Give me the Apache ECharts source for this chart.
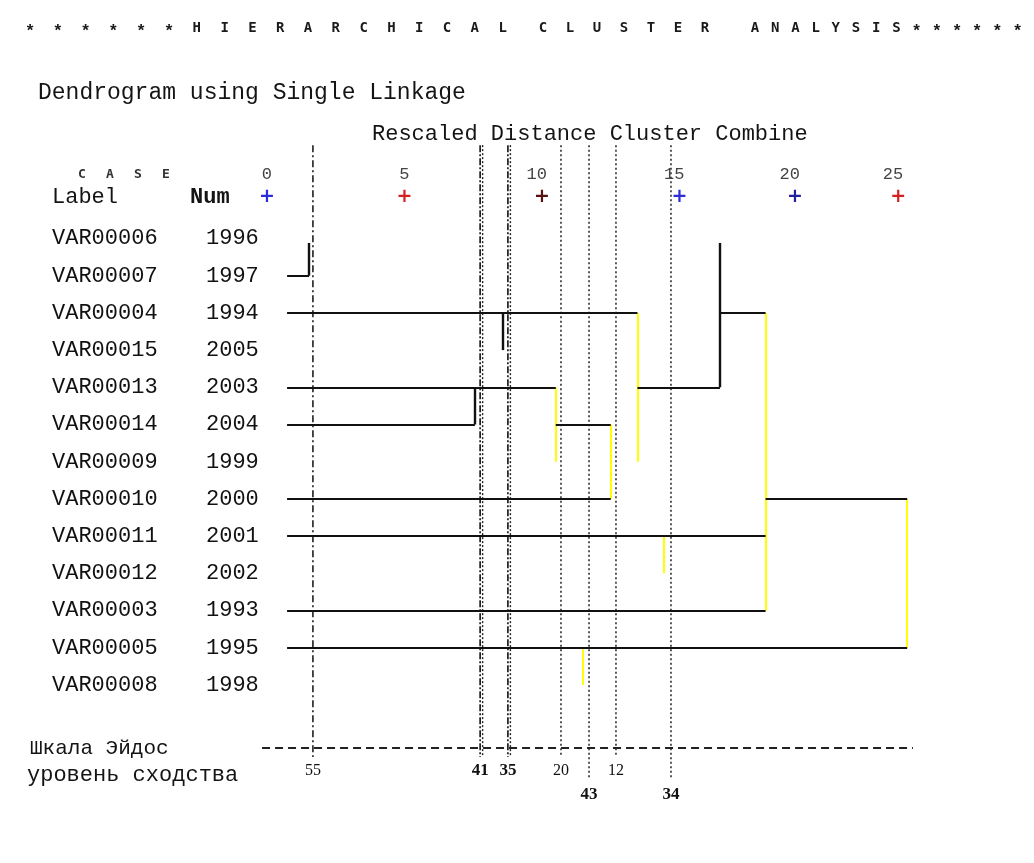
<!DOCTYPE html>
<html><head><meta charset="utf-8">
<script src="https://cdn.jsdelivr.net/npm/echarts@6/dist/echarts.min.js"></script>
<style>html,body{margin:0;padding:0;background:#fff}#c{width:1034px;height:863px}</style>
</head><body><div id="c"></div>
<script>
// ---------------- data ----------------
const caseLabels = ['VAR00006','VAR00007','VAR00004','VAR00015','VAR00013','VAR00014','VAR00009','VAR00010','VAR00011','VAR00012','VAR00003','VAR00005','VAR00008'];
const caseNums   = ['1996','1997','1994','2005','2003','2004','1999','2000','2001','2002','1993','1995','1998'];
const scaleTickValues = [0, 5, 10, 15, 19.2, 22.95];
const scaleTickLabels = ['0', '5', '10', '15', '20', '25'];
// horizontal dendrogram segments: [row, fromDistance, toDistance]
const joinHorizontal = [
  [1, 0.73, 1.53], [2, 0.73, 13.47], [2, 16.47, 18.13], [4, 0.73, 10.5], [4, 13.47, 16.47],
  [5, 0.73, 7.56], [5, 10.5, 12.5], [7, 0.73, 12.5], [7, 18.13, 23.28], [8, 0.73, 18.13],
  [10, 0.73, 18.13], [11, 0.73, 23.28]
];
// vertical dendrogram segments: [distance, fromRow, toRow]
const joinVerticalBlack  = [[1.53, 0.12, 1], [7.56, 4, 5], [8.57, 2, 3], [16.47, 0.12, 4]];
const joinVerticalYellow = [[10.5, 4, 6], [12.5, 5, 7], [13.47, 2, 6], [18.13, 2, 10], [23.28, 7, 11], [14.44, 8, 9], [11.49, 11.04, 12]];
// Eidos scale reference levels
const eidosPositions = [1.67, 7.75, 8.76, 10.69, 11.71, 12.69, 14.69];
const eidosLevels    = ['55', '41', '35', '20', '43', '12', '34'];

// ---------------- layout / style (not data) ----------------
const MONO = '"Liberation Mono", "DejaVu Sans Mono", monospace';
const eidosLineKind = ['dashdot', 'heavy', 'heavy', 'dot', 'dot', 'dot', 'dot'];
const eidosLabelTier = [0, 0, 0, 0, 1, 0, 1];
const plusColors = ['#2b2bd9', '#d42020', '#5a1010', '#2b2bd9', '#1f1f9f', '#d42020'];
const LINE_TOP = -2.51, LINE_BOTTOM = [13.94, 14.5], LABEL_ROW = [14.31, 14.96];
const SCALE_ROW = 13.7;

function spacedChars(str, x0, step, y, font, fill) {
  return str.split('').map((ch, i) => ({
    type: 'text', silent: true, x: x0 + i * step, y: y + (ch === '*' ? 4 : 0),
    style: { text: ch, font: ch === '*' ? 'bold 17px "Liberation Mono", monospace' : font, fill: fill, textAlign: 'center', textVerticalAlign: 'middle' }
  }));
}
function plainText(str, x, y, font) {
  return { type: 'text', silent: true, x: x, y: y,
    style: { text: str, font: font, fill: '#141414', textAlign: 'left', textVerticalAlign: 'middle' } };
}

const titleFont = 'bold 14px "DejaVu Sans Mono", monospace';
const graphics = [].concat(
  spacedChars('******HIERARCHICAL', 30, 27.8, 28, titleFont, '#1a1a1a'),
  spacedChars('CLUSTER', 543, 27, 28, titleFont, '#1a1a1a'),
  spacedChars('ANALYSIS******', 755, 20.2, 28, titleFont, '#1a1a1a'),
  [plainText('Dendrogram using Single Linkage', 38, 93, '23px ' + MONO),
   plainText('Rescaled Distance Cluster Combine', 372, 134, '22px ' + MONO)],
  spacedChars('CASE', 82, 28, 175, 'bold 13px "DejaVu Sans Mono", monospace', '#333'),
  [plainText('Label', 52, 197, '22px ' + MONO),
   plainText('Num', 190, 197, 'bold 22px ' + MONO),
   plainText('Шкала Эйдос', 30, 748, '21px ' + MONO),
   plainText('уровень сходства', 27, 775, '22px ' + MONO)]
);

const chart = echarts.init(document.getElementById('c'), null, { renderer: 'canvas' });
chart.setOption({
  animation: false,
  backgroundColor: '#fff',
  grid: { left: 267, top: 89.7, width: 687.5, height: 744, containLabel: false, outerBoundsMode: 'none' },
  xAxis: { type: 'value', min: 0, max: 25, show: false },
  yAxis: {
    type: 'value', inverse: true, min: -4, max: 16, interval: 1,
    axisLine: { show: false }, axisTick: { show: false }, splitLine: { show: false },
    axisLabel: {
      align: 'left', margin: 215,
      formatter: v => (Number.isInteger(v) && v >= 0 && v < caseLabels.length) ? '{a|' + caseLabels[v] + '}{b|' + caseNums[v] + '}' : '',
      rich: {
        a: { width: 154, fontFamily: MONO, fontSize: 22, color: '#111' },
        b: { fontFamily: MONO, fontSize: 22, color: '#111' }
      }
    }
  },
  graphic: { elements: graphics },
  series: [
    { // Eidos reference lines and level labels
      type: 'custom', clip: false, silent: true, z: 1,
      data: eidosPositions.map(x => [x, 0]),
      renderItem: function (params, api) {
        const i = params.dataIndex, x = api.value(0), t = eidosLabelTier[i];
        const p0 = api.coord([x, LINE_TOP]), p1 = api.coord([x, LINE_BOTTOM[t]]), lp = api.coord([x, LABEL_ROW[t]]);
        const kind = eidosLineKind[i];
        const children = [];
        if (kind === 'heavy') {
          children.push({ type: 'line', shape: { x1: p0[0], y1: p0[1], x2: p1[0], y2: p1[1] }, style: { stroke: '#111', lineWidth: 1.6, lineDash: [7, 2, 2, 2] } });
          children.push({ type: 'line', shape: { x1: p0[0] + 2.5, y1: p0[1], x2: p1[0] + 2.5, y2: p1[1] }, style: { stroke: '#222', lineWidth: 1.4, lineDash: [2, 2] } });
        } else if (kind === 'dashdot') {
          children.push({ type: 'line', shape: { x1: p0[0], y1: p0[1], x2: p1[0], y2: p1[1] }, style: { stroke: '#111', lineWidth: 1.5, lineDash: [7, 3, 2, 3] } });
        } else {
          children.push({ type: 'line', shape: { x1: p0[0], y1: p0[1], x2: p1[0], y2: p1[1] }, style: { stroke: '#222', lineWidth: 1.5, lineDash: [2, 2.5] } });
        }
        const big = (i === 1 || i === 2 || i === 4 || i === 6);
        children.push({ type: 'text', x: lp[0], y: lp[1], style: { text: eidosLevels[i], font: (big ? 'bold 17px' : '16px') + ' "Liberation Serif", serif', fill: '#111', textAlign: 'center', textVerticalAlign: 'middle', align: 'center', verticalAlign: 'middle' } });
        return { type: 'group', children: children };
      }
    },
    { // top rescaled distance scale
      type: 'custom', clip: false, silent: true, z: 2,
      data: scaleTickValues.map(x => [x, 0]),
      renderItem: function (params, api) {
        const i = params.dataIndex, x = api.value(0);
        const pn = api.coord([x, -1.707]), pp = api.coord([x, -1.116]);
        return { type: 'group', children: [
          { type: 'text', x: pn[0] + 5, y: pn[1], style: { text: scaleTickLabels[i], font: '17px ' + MONO, fill: '#444', textAlign: 'right', textVerticalAlign: 'middle', align: 'right', verticalAlign: 'middle' } },
          { type: 'text', x: pp[0], y: pp[1], style: { text: '+', font: 'bold 19px "DejaVu Sans", sans-serif', fill: plusColors[i], textAlign: 'center', textVerticalAlign: 'middle', align: 'center', verticalAlign: 'middle' } }
        ] };
      }
    },
    { // bottom Eidos scale line
      type: 'lines', coordinateSystem: 'cartesian2d', clip: false, silent: true, z: 2,
      data: [{ coords: [[-0.18, SCALE_ROW], [23.49, SCALE_ROW]] }],
      lineStyle: { color: '#222', width: 2, type: [8, 5], opacity: 1 }
    },
    { // yellow joins
      type: 'lines', coordinateSystem: 'cartesian2d', clip: false, silent: true, z: 3,
      data: joinVerticalYellow.map(([x, a, b]) => ({ coords: [[x, a], [x, b]] })),
      lineStyle: { color: '#ffff00', width: 2, opacity: 1 }
    },
    { // black horizontal joins
      type: 'lines', coordinateSystem: 'cartesian2d', clip: false, silent: true, z: 4,
      data: joinHorizontal.map(([r, a, b]) => ({ coords: [[a, r], [b, r]] })),
      lineStyle: { color: '#111', width: 2, opacity: 1 }
    },
    { // black vertical joins
      type: 'lines', coordinateSystem: 'cartesian2d', clip: false, silent: true, z: 4,
      data: joinVerticalBlack.map(([x, a, b]) => ({ coords: [[x, a], [x, b]] })),
      lineStyle: { color: '#111', width: 2.4, opacity: 1 }
    }
  ]
});
</script></body></html>
